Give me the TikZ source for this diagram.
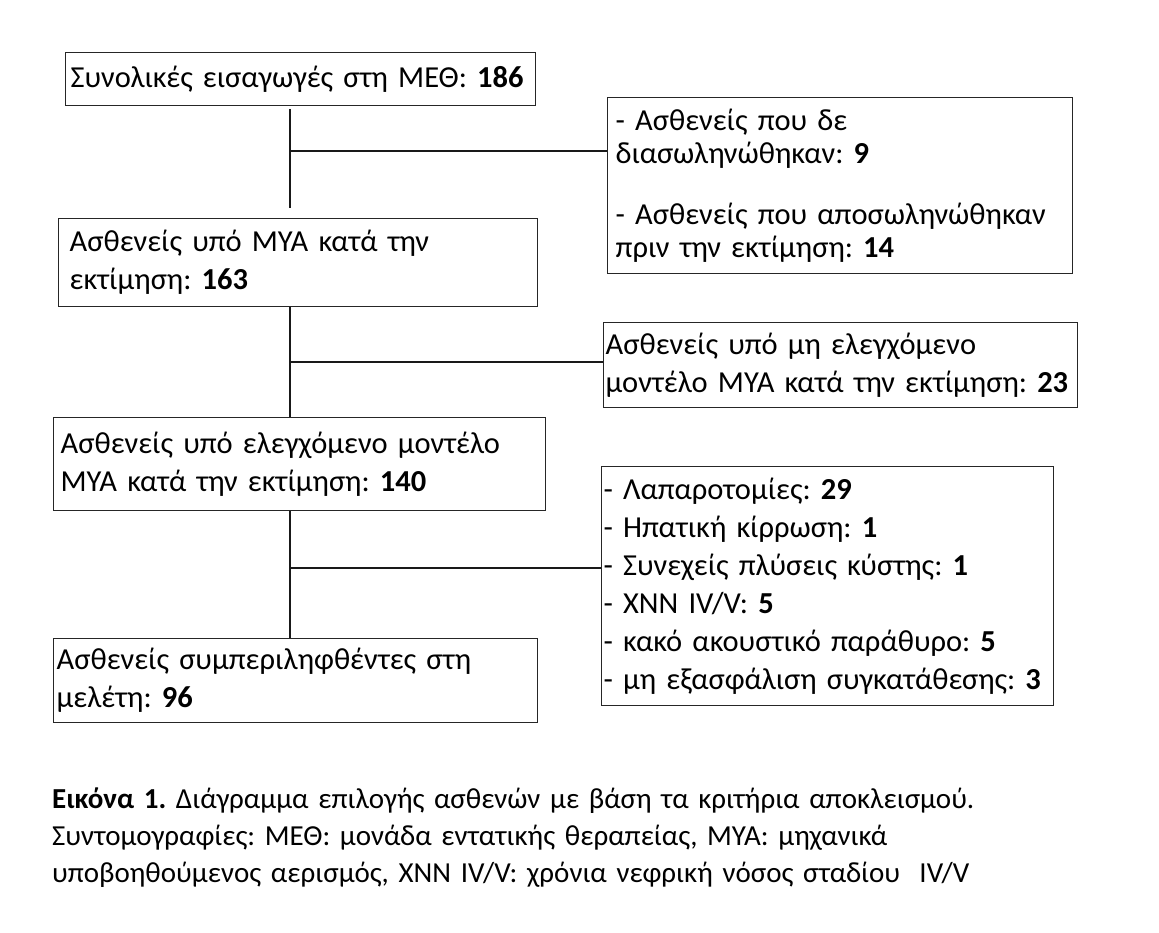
\documentclass[tikz,border=0pt]{standalone}
\usepackage{fontspec}
\setmainfont{Carlito}
\frenchspacing

\begin{document}
\begin{tikzpicture}[x=1pt,y=-1pt,
    box/.style={draw=black!85, line width=1.3pt, anchor=north west, align=left,
                inner ysep=0pt, font=\fontsize{30.5}{38}\selectfont},
    link/.style={draw=black!90, line width=1.3pt}]
    \useasboundingbox[fill=white] (0,0) rectangle (1159,932);

    % main column
    \node[box, inner xsep=5pt, text width=460pt, minimum height=53pt] (b1) at (65,52)
        {Συνολικές εισαγωγές στη ΜΕΘ: \textbf{186}};
    \node[box, inner xsep=11pt, text width=457pt, minimum height=88pt] (b2) at (58,218)
        {Ασθενείς υπό ΜΥΑ κατά την\\εκτίμηση: \textbf{163}};
    \node[box, inner xsep=7pt, text width=478pt, minimum height=93pt] (b3) at (53,417)
        {Ασθενείς υπό ελεγχόμενο μοντέλο\\ΜΥΑ κατά την εκτίμηση: \textbf{140}};
    \node[box, inner xsep=3pt, text width=478pt, minimum height=84pt] (b4) at (53,638)
        {Ασθενείς συμπεριληφθέντες στη\\μελέτη: \textbf{96}};

    % exclusions
    \node[box, inner xsep=8pt, text width=449pt, minimum height=176pt,
          font=\fontsize{30.5}{33}\selectfont] (r1) at (607,97)
        {- Ασθενείς που δε\\διασωληνώθηκαν: \textbf{9}\\[28pt]- Ασθενείς που αποσωληνώθηκαν\\πριν την εκτίμηση: \textbf{14}};
    \node[box, inner xsep=2pt, text width=470pt, minimum height=85pt] (r2) at (603,322)
        {Ασθενείς υπό μη ελεγχόμενο\\μοντέλο ΜΥΑ κατά την εκτίμηση: \textbf{23}};
    \node[box, inner xsep=2pt, text width=448pt, minimum height=239pt] (r3) at (601,466)
        {- Λαπαροτομίες: \textbf{29}\\- Ηπατική κίρρωση: \textbf{1}\\- Συνεχείς πλύσεις κύστης: \textbf{1}\\- ΧΝΝ IV/V: \textbf{5}\\- κακό ακουστικό παράθυρο: \textbf{5}\\- μη εξασφάλιση συγκατάθεσης: \textbf{3}};

    % branch points
    \coordinate (j1) at (290,151);
    \coordinate (j2) at (290,362);
    \coordinate (j3) at (290,568);

    \draw[link] ([yshift=-3pt]b1.south -| j1) -- ([yshift=10pt]b2.north -| j1);
    \draw[link] (j1) -- (j1 -| r1.west);
    \draw[link] (b2.south -| j2) -- (b3.north -| j2);
    \draw[link] (j2) -- (j2 -| r2.west);
    \draw[link] (b3.south -| j3) -- (b4.north -| j3);
    \draw[link] (j3) -- (j3 -| r3.west);

    % caption
    \node[anchor=north west, align=left, inner sep=0pt, text width=1100pt,
          font=\fontsize{29}{37}\selectfont] (cap) at (52,788)
        {\textbf{Εικόνα 1.} Διάγραμμα επιλογής ασθενών με βάση τα κριτήρια αποκλεισμού.\\
         Συντομογραφίες: ΜΕΘ: μονάδα εντατικής θεραπείας, ΜΥΑ: μηχανικά\\
         υποβοηθούμενος αερισμός, ΧΝΝ IV/V: χρόνια νεφρική νόσος σταδίου\ \ IV/V};
\end{tikzpicture}
\end{document}
